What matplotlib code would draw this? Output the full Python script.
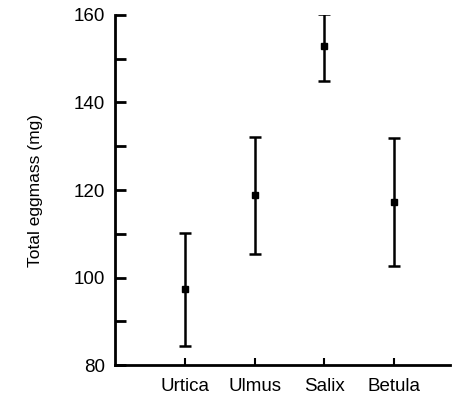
import matplotlib.pyplot as plt

plt.rcParams['font.family'] = ['Liberation Sans Narrow', 'Liberation Sans', 'DejaVu Sans']

species = ['Urtica', 'Ulmus', 'Salix', 'Betula']
means = [97.3, 118.9, 152.8, 117.3]
upper = [110.2, 132.2, 160.2, 131.8]
lower = [84.4, 105.3, 144.8, 102.7]

err_low = [m - l for m, l in zip(means, lower)]
err_high = [u - m for m, u in zip(means, upper)]
xpos = list(range(1, len(species) + 1))

fig = plt.figure(figsize=(4.6, 4.03), dpi=100)
ax = fig.add_axes([0.25, 0.094, 0.728, 0.869])

ax.errorbar(xpos, means, yerr=[err_low, err_high], fmt='s', color='black',
            markersize=4, elinewidth=1.8, capsize=4.5, capthick=1.8)

ax.set_xlim(0, 4.8)
ax.set_ylim(80, 160)
ax.set_yticks([80, 100, 120, 140, 160])
ax.set_yticks([90, 110, 130, 150], minor=True)
ax.set_xticks(xpos)
ax.set_xticklabels(species)

ax.spines['top'].set_visible(False)
ax.spines['right'].set_visible(False)
ax.spines['left'].set_linewidth(2)
ax.spines['bottom'].set_linewidth(2)

ax.tick_params(axis='y', which='both', direction='in', length=8, width=2, pad=7, labelsize=13.5)
ax.tick_params(axis='x', direction='in', length=5, width=1.5, pad=9, labelsize=13.5)

ax.set_ylabel('Total eggmass (mg)', fontsize=12.5, labelpad=22)

fig.savefig('out.png')
